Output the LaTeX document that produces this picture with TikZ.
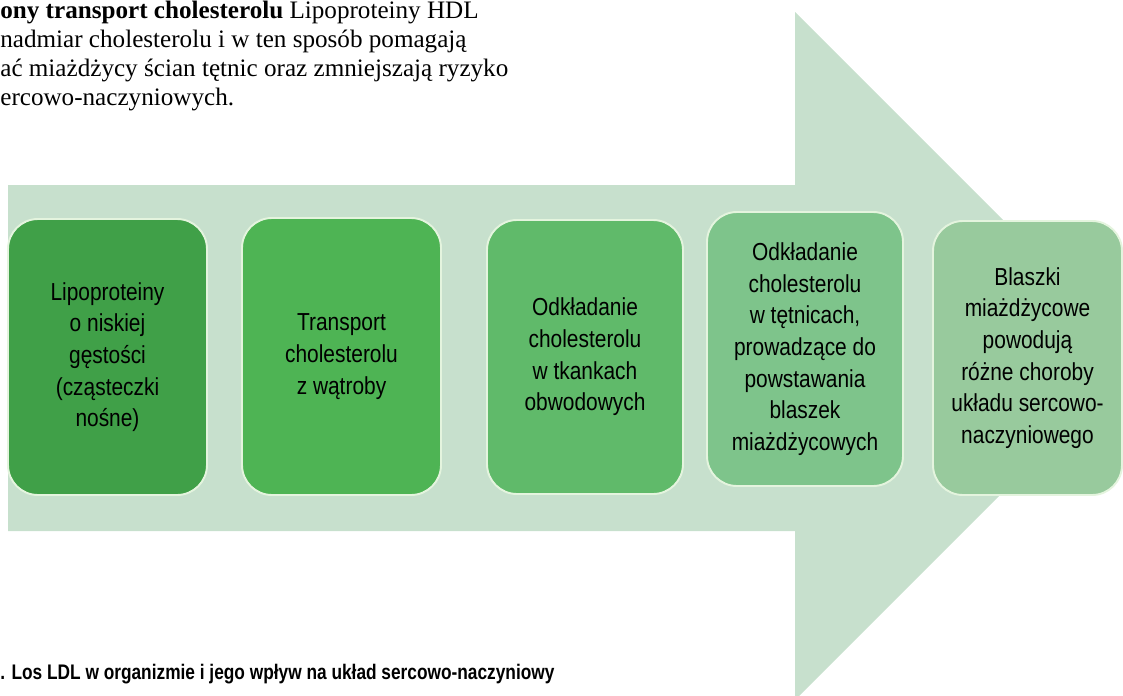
\documentclass[tikz,border=0pt]{standalone}
\usepackage{fontspec}
\setmainfont{Liberation Serif}
\newfontfamily\narrowsans[FakeStretch=0.85]{Liberation Sans}
\newfontfamily\capsans[FakeStretch=0.82]{Liberation Sans}

\definecolor{arrowgreen}{RGB}{199,224,205}
\definecolor{edgegreen}{RGB}{228,244,222}
\definecolor{greenA}{RGB}{64,160,72}
\definecolor{greenB}{RGB}{78,180,84}
\definecolor{greenC}{RGB}{96,186,106}
\definecolor{greenD}{RGB}{126,196,139}
\definecolor{greenE}{RGB}{152,202,157}

\tikzstyle{stage} = [draw=edgegreen, line width=1.1pt, rounded corners=6mm,
    align=center, inner sep=0pt, font=\narrowsans\fontsize{14}{18}\selectfont]
\tikzstyle{intro} = [anchor=north west, align=left, inner sep=0pt,
    font=\fontsize{14.3}{16.4}\selectfont]

\begin{document}
\begin{tikzpicture}[x=0.2mm, y=-0.2mm]
\useasboundingbox (0,0) rectangle (1123,695);
\clip (0,0) rectangle (1123,695);

% big arrow behind the stages
\fill[arrowgreen] (8,185) -- (795,185) -- (795,12) -- (1139,356)
    -- (795,700) -- (795,531) -- (8,531) -- cycle;

% text cut off above the figure
\node[intro] (intro) at (0,1) {\textbf{ony transport cholesterolu} Lipoproteiny HDL\\
    nadmiar cholesterolu i w ten sposób pomagają\\
    ać miażdżycy ścian tętnic oraz zmniejszają ryzyko\\
    ercowo-naczyniowych.};

% stages
\node[stage, fill=greenA, minimum width=39.8mm, minimum height=55.2mm] (ldl) at (107.5,357)
    {Lipoproteiny\\o niskiej\\gęstości\\(cząsteczki\\nośne)};
\node[stage, fill=greenB, minimum width=39.8mm, minimum height=55.4mm] (liver) at (341.5,356.5)
    {Transport\\cholesterolu\\z wątroby};
\node[stage, fill=greenC, minimum width=39.2mm, minimum height=54.8mm] (tissue) at (585,357)
    {Odkładanie\\cholesterolu\\w tkankach\\obwodowych};
\node[stage, fill=greenD, minimum width=39.2mm, minimum height=54.8mm] (artery) at (805,349)
    {Odkładanie\\cholesterolu\\w tętnicach,\\prowadzące do\\powstawania\\blaszek\\miażdżycowych};
\node[stage, fill=greenE, minimum width=37.8mm, minimum height=54.8mm] (plaque) at (1027.5,358)
    {Blaszki\\miażdżycowe\\powodują\\różne choroby\\układu sercowo-\\naczyniowego};

% caption
\node[anchor=base west, inner sep=0pt, font=\capsans\bfseries\fontsize{12}{14}\selectfont] (caption)
    at (0,679) {. Los LDL w organizmie i jego wpływ na układ sercowo-naczyniowy};
\end{tikzpicture}
\end{document}
